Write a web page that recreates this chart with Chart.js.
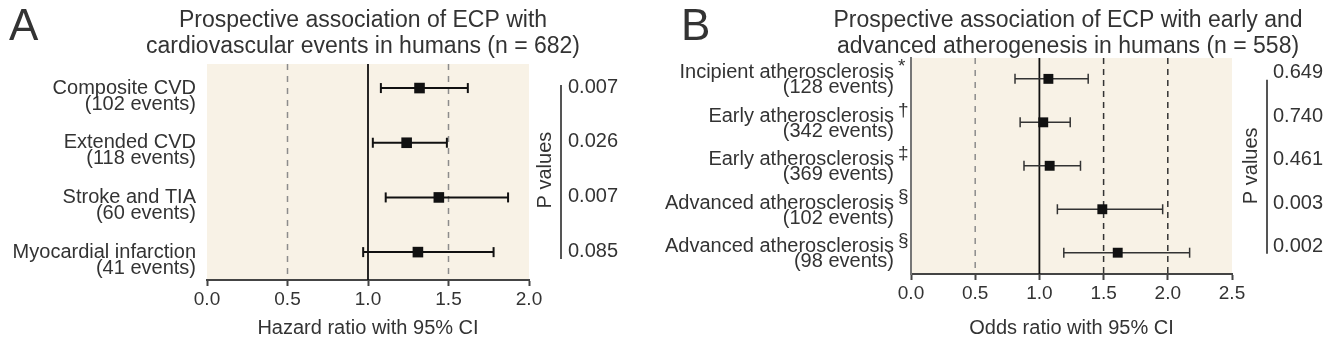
<!DOCTYPE html>
<html>
<head>
<meta charset="utf-8">
<title>ECP forest plots</title>
<script src="https://cdn.jsdelivr.net/npm/chart.js"></script>
<style>
  body { margin: 0; background: #fff; }
  #wrap { position: relative; width: 1338px; height: 353px; }
  .panel { position: absolute; top: 0; height: 353px; }
  #panelA { left: 0; width: 640px; }
  #panelB { left: 640px; width: 698px; }
</style>
</head>
<body>
<div id="wrap">
  <div class="panel" id="panelA"><canvas id="chartA"></canvas></div>
  <div class="panel" id="panelB"><canvas id="chartB"></canvas></div>
</div>
<script>
// panel A - cardiovascular events
var labelsA = [['Composite CVD', '(102 events)'], ['Extended CVD', '(118 events)'],
               ['Stroke and TIA', '(60 events)'], ['Myocardial infarction', '(41 events)']];
var hrA = [1.32, 1.24, 1.44, 1.31];
var loA = [1.08, 1.03, 1.11, 0.97];
var hiA = [1.62, 1.49, 1.87, 1.78];
var pA = ['0.007', '0.026', '0.007', '0.085'];
var ticksA = [0, 0.5, 1.0, 1.5, 2.0];
var titleA = ['Prospective association of ECP with', 'cardiovascular events in humans (n = 682)'];

// panel B - atherogenesis
var labelsB = [['Incipient atherosclerosis', '(128 events)'], ['Early atherosclerosis', '(342 events)'],
               ['Early atherosclerosis', '(369 events)'], ['Advanced atherosclerosis', '(102 events)'],
               ['Advanced atherosclerosis', '(98 events)']];
var marksB = ['*', '\u2020', '\u2021', '\u00a7', '\u00a7'];
var orB = [1.07, 1.03, 1.08, 1.49, 1.61];
var loB = [0.81, 0.85, 0.88, 1.14, 1.19];
var hiB = [1.38, 1.24, 1.32, 1.96, 2.17];
var pB = ['0.649', '0.740', '0.461', '0.003', '0.002'];
var ticksB = [0, 0.5, 1.0, 1.5, 2.0, 2.5];
var titleB = ['Prospective association of ECP with early and', 'advanced atherogenesis in humans (n = 558)'];

var FONT = "'Liberation Sans', Arial, sans-serif";
var TXT = '#333';
Chart.defaults.font.family = FONT;

function makePanel(id, o) {
  var n = o.est.length;
  var datasets = [];

  // reference lines
  o.refs.forEach(function (r) {
    datasets.push({
      type: 'line', data: [{x: r.v, y: o.ymin}, {x: r.v, y: o.ymax}],
      borderColor: r.color, borderWidth: r.w, borderDash: r.dash,
      pointRadius: 0, order: 10
    });
  });

  // confidence intervals with end caps
  for (var i = 0; i < n; i++) {
    datasets.push({
      type: 'line', data: [{x: o.lo[i], y: i}, {x: o.hi[i], y: i}],
      borderColor: o.ciColor, borderWidth: o.ciW,
      pointStyle: 'line', pointRotation: 90, pointRadius: o.capR,
      pointBorderColor: o.ciColor, pointBorderWidth: o.ciW, order: 2
    });
  }

  // point estimates
  datasets.push({
    type: 'scatter',
    data: o.est.map(function (v, i) { return {x: v, y: i}; }),
    pointStyle: 'rect', pointRadius: o.markR,
    backgroundColor: '#111', borderColor: '#111', borderWidth: 0, order: 0
  });

  var decor = {
    id: 'decor' + id,
    beforeDraw: function (chart) {
      var a = chart.chartArea, ctx = chart.ctx;
      ctx.save();
      ctx.fillStyle = '#f8f2e6';
      ctx.fillRect(a.left, a.top, a.right - a.left, a.bottom - a.top);
      ctx.restore();
    },
    afterDraw: function (chart) {
      var ctx = chart.ctx, ys = chart.scales.y;
      ctx.save();
      ctx.fillStyle = TXT;

      // panel letter
      ctx.font = '44px ' + FONT;
      ctx.textAlign = 'left';
      ctx.textBaseline = 'alphabetic';
      ctx.fillText(o.letter, o.letterX, o.letterY);

      ctx.textBaseline = 'middle';
      // title
      ctx.font = '23px ' + FONT;
      ctx.textAlign = 'center';
      ctx.fillText(o.title[0], o.titleX, o.titleY[0]);
      ctx.fillText(o.title[1], o.titleX, o.titleY[1]);

      // row labels
      ctx.font = '20px ' + FONT;
      ctx.textAlign = 'right';
      for (var i = 0; i < n; i++) {
        var y = ys.getPixelForValue(i);
        ctx.fillText(o.labels[i][0], o.labelX, y + o.l1);
        ctx.fillText(o.labels[i][1], o.labelX, y + o.l2);
      }
      if (o.marks) {
        ctx.textAlign = 'left';
        ctx.font = '19px ' + FONT;
        for (var j = 0; j < n; j++) {
          ctx.fillText(o.marks[j], o.labelX + 4, ys.getPixelForValue(j) - 12);
        }
      }

      // p values
      var top = ys.getPixelForValue(0) + o.pLine[0];
      var bot = ys.getPixelForValue(n - 1) + o.pLine[1];
      ctx.strokeStyle = '#555';
      ctx.lineWidth = 2;
      ctx.beginPath();
      ctx.moveTo(o.pLineX, top);
      ctx.lineTo(o.pLineX, bot);
      ctx.stroke();
      ctx.font = '20px ' + FONT;
      ctx.textAlign = 'left';
      for (var k = 0; k < n; k++) {
        ctx.fillText(o.p[k], o.pTextX, ys.getPixelForValue(k) + o.pOff);
      }
      ctx.translate(o.pLabelX, (ys.getPixelForValue(0) + ys.getPixelForValue(n - 1)) / 2);
      ctx.rotate(-Math.PI / 2);
      ctx.textAlign = 'center';
      ctx.fillText('P values', 0, 0);
      ctx.restore();
    }
  };

  return new Chart(document.getElementById(id), {
    type: 'scatter',
    data: {datasets: datasets},
    options: {
      responsive: true,
      maintainAspectRatio: false,
      animation: false,
      layout: {padding: {left: o.left, right: o.right, top: o.top, bottom: 0}},
      plugins: {legend: {display: false}, tooltip: {enabled: false}},
      scales: {
        x: {
          type: 'linear', min: 0, max: o.xmax,
          afterBuildTicks: function (s) { s.ticks = o.ticks.map(function (v) { return {value: v}; }); },
          afterFit: function (s) { s.height = o.axisH; },
          ticks: {
            callback: function (v) { return Number(v).toFixed(1); },
            font: {size: 19}, color: TXT, padding: 2, maxRotation: 0, autoSkip: false
          },
          grid: {drawOnChartArea: false, drawTicks: true, tickLength: 6, tickColor: '#444', tickWidth: 2},
          border: {color: '#444', width: 2},
          title: {display: true, text: o.xTitle, font: {size: 20}, color: TXT, padding: {top: 0, bottom: 13}}
        },
        y: {
          type: 'linear', reverse: true, min: o.ymin, max: o.ymax,
          display: o.yBorder,
          afterBuildTicks: function (s) { s.ticks = []; },
          afterFit: function (s) { s.width = 0; },
          ticks: {display: false},
          grid: {display: true, drawOnChartArea: false, drawTicks: false},
          border: {color: '#777', width: 2}
        }
      }
    },
    plugins: [decor]
  });
}

makePanel('chartA', {
  labels: labelsA, est: hrA, lo: loA, hi: hiA, p: pA, ticks: ticksA, title: titleA,
  xmax: 2.0, xTitle: 'Hazard ratio with 95% CI',
  left: 207, right: 111, top: 64, axisH: 73, ymin: -0.44, ymax: 3.51, yBorder: false,
  refs: [{v: 0.5, color: '#8c8c8c', w: 1.5, dash: [6, 6]},
         {v: 1.5, color: '#8c8c8c', w: 1.5, dash: [6, 6]},
         {v: 1.0, color: '#111', w: 1.8, dash: []}],
  ciColor: '#111', ciW: 2, capR: 5, markR: 7.5,
  letter: 'A', letterX: 9, letterY: 40,
  titleX: 363, titleY: [21, 47],
  labelX: 196, l1: 0, l2: 16,
  pLineX: 561, pTextX: 568, pLabelX: 545, pLine: [-3, 7], pOff: -1
});

makePanel('chartB', {
  labels: labelsB, marks: marksB, est: orB, lo: loB, hi: hiB, p: pB, ticks: ticksB, title: titleB,
  xmax: 2.5, xTitle: 'Odds ratio with 95% CI',
  left: 271, right: 106, top: 58, axisH: 79, ymin: -0.48, ymax: 4.49, yBorder: true,
  refs: [{v: 0.5, color: '#8c8c8c', w: 1.5, dash: [6, 6]},
         {v: 1.5, color: '#333', w: 1.5, dash: [6, 5]},
         {v: 2.0, color: '#333', w: 1.5, dash: [6, 5]},
         {v: 1.0, color: '#111', w: 1.8, dash: []}],
  ciColor: '#333', ciW: 1.5, capR: 5, markR: 7,
  letter: 'B', letterX: 41, letterY: 40,
  titleX: 428, titleY: [21, 47],
  labelX: 254, l1: -6, l2: 9,
  pLineX: 627, pTextX: 633, pLabelX: 611, pLine: [1, 1], pOff: -6
});
</script>
</body>
</html>
